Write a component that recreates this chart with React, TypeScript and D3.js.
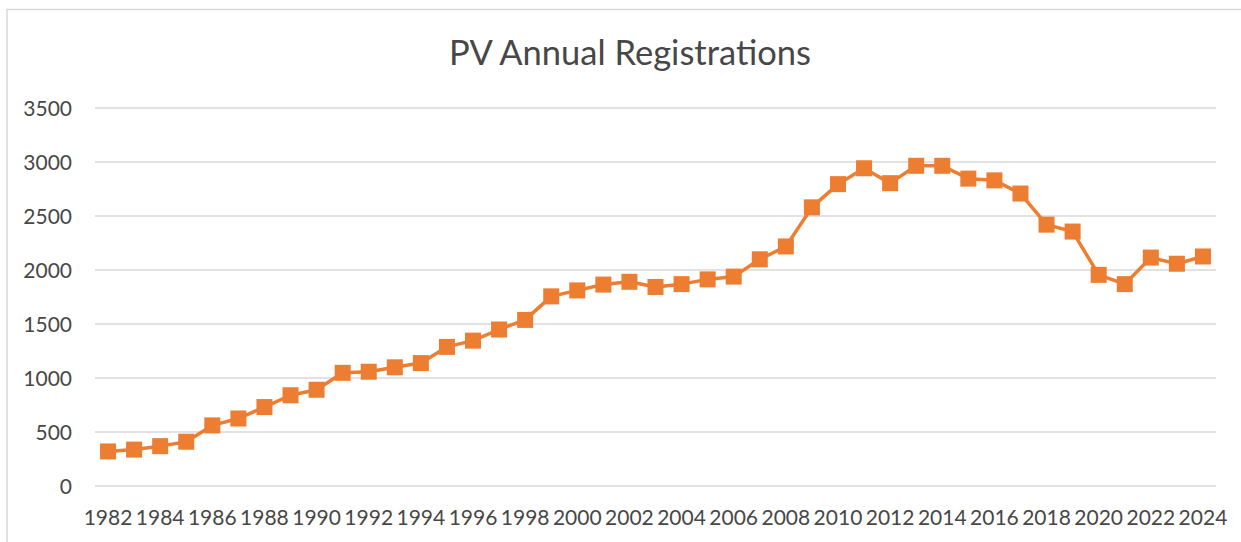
import React from 'react';
import * as d3 from 'd3';

const years = d3.range(1982, 2025).map(String);
const registrations = [
  320, 337, 369, 410, 561, 625, 731, 840, 891, 1048, 1058, 1099, 1138,
  1288, 1346, 1449, 1538, 1756, 1811, 1865, 1891, 1843, 1869, 1913, 1939, 2099, 2218, 2580,
  2795, 2942, 2804, 2965, 2965, 2846, 2830, 2708, 2420, 2356, 1955, 1869, 2115, 2058, 2125,
];
const yTicks = [0, 500, 1000, 1500, 2000, 2500, 3000, 3500];
const title = 'PV Annual Registrations';

const W = 1241;
const H = 542;
const font = 'Lato, "Open Sans", sans-serif';
const textColor = '#474747';
const orange = '#ED7D31';

const App = () => {
  const x = d3.scaleBand().domain(years).range([95, 1216]);
  const y = d3.scaleLinear().domain([0, 3500]).range([486, 108]);
  const cx = (yr: string) => (x(yr) as number) + x.bandwidth() / 2;

  const line = d3.line<number>()
    .x((_, i) => cx(years[i]))
    .y(d => y(d));

  const m = 16; // marker size

  return (
    <svg width={W} height={H} style={{ position: 'absolute', left: 0, top: 0, background: '#fff' }}>
      <rect x={7} y={9.5} width={1250} height={550} fill="#fff" stroke="#d9d9d9" strokeWidth={1.5} />
      <text x={630} y={65} textAnchor="middle" fontFamily={font} fontSize={34.5} fill={textColor}>
        {title}
      </text>

      {yTicks.map(t => (
        <g key={t}>
          <line x1={95} x2={1216} y1={y(t)} y2={y(t)} stroke="#d9d9d9" strokeWidth={1.5} />
          <text x={72} y={y(t)} dy="0.36em" textAnchor="end" fontFamily={font} fontSize={21} fill={textColor}>
            {t}
          </text>
        </g>
      ))}

      {years.filter((_, i) => i % 2 === 0).map(yr => (
        <text key={yr} x={cx(yr)} y={525} textAnchor="middle" fontFamily={font} fontSize={21} fill={textColor}>
          {yr}
        </text>
      ))}

      <path d={line(registrations) || ''} fill="none" stroke={orange} strokeWidth={3.5} strokeLinejoin="round" />
      {registrations.map((v, i) => (
        <rect key={years[i]} x={cx(years[i]) - m / 2} y={y(v) - m / 2} width={m} height={m} fill={orange} />
      ))}
    </svg>
  );
};

export default App;
